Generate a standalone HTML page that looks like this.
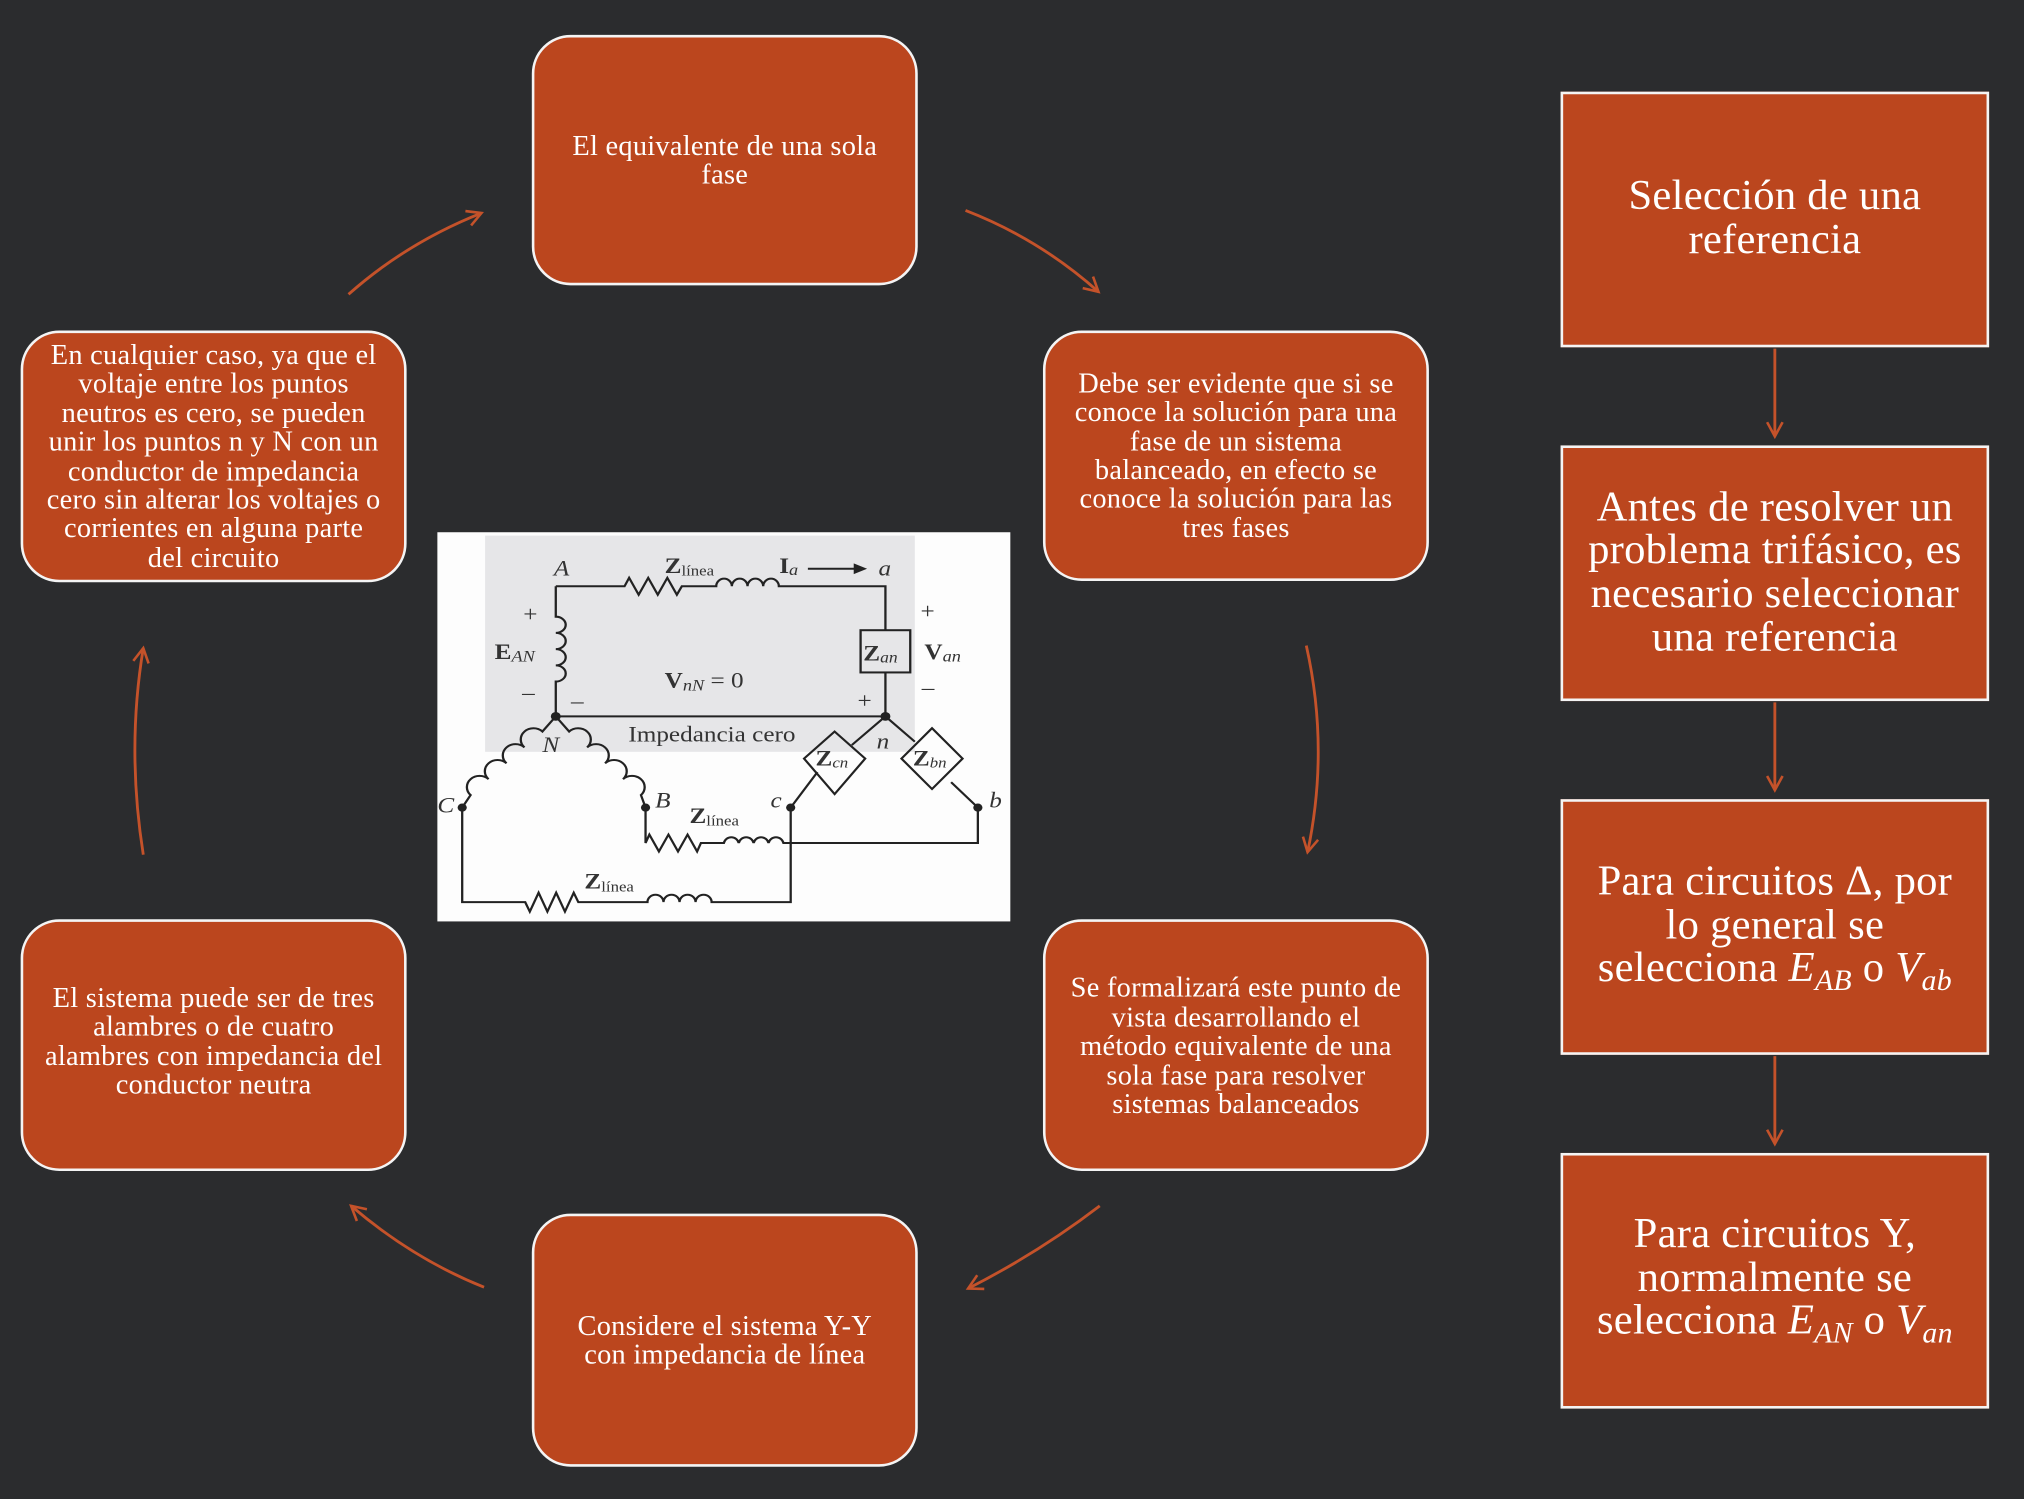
<!DOCTYPE html>
<html><head><meta charset="utf-8"><style>
html,body{margin:0;padding:0;background:#2b2b2d;}
#wrap{position:relative;width:1568px;height:1161px;transform:scale(1.2908,1.2911);transform-origin:0 0;background:#2b2c2e;overflow:hidden;font-family:"Liberation Serif",serif;}
.rb{position:absolute;width:294px;height:190px;background:#bb461e;border:2px solid #f4f4f4;border-radius:30px;box-sizing:border-box;display:flex;align-items:center;justify-content:center;text-align:center;color:#fff;font-size:22px;line-height:22.4px;padding:0 2px;letter-spacing:0.2px;white-space:nowrap;}
.sq{position:absolute;left:1209px;width:332px;height:198px;background:#bb461e;border:2px solid #f4f4f4;box-sizing:border-box;display:flex;align-items:center;justify-content:center;text-align:center;color:#fff;font-size:33px;line-height:33.6px;padding:0 2px;letter-spacing:0.2px;white-space:nowrap;}
.m{font-style:italic;}
.m sub{font-size:0.7em;vertical-align:-0.3em;}
svg{position:absolute;left:0;top:0;}
</style></head><body><div id="wrap">

<div class="rb" style="left:412px;top:27px;width:299px;height:194px;"><div style="margin-top:0px">El equivalente de una sola<br>fase</div></div>
<div class="rb" style="left:808px;top:256px;width:299px;height:194px;"><div style="margin-top:0px">Debe ser evidente que si se<br>conoce la solución para una<br>fase de un sistema<br>balanceado, en efecto se<br>conoce la solución para las<br>tres fases</div></div>
<div class="rb" style="left:808px;top:712px;width:299px;height:195px;"><div style="margin-top:2px">Se formalizará este punto de<br>vista desarrollando el<br>método equivalente de una<br>sola fase para resolver<br>sistemas balanceados</div></div>
<div class="rb" style="left:412px;top:940px;width:299px;height:196px;"><div>Considere el sistema Y-Y<br>con impedancia de línea</div></div>
<div class="rb" style="left:16px;top:712px;width:299px;height:195px;"><div style="margin-top:-6px">El sistema puede ser de tres<br>alambres o de cuatro<br>alambres con impedancia del<br>conductor neutra</div></div>
<div class="rb" style="left:16px;top:256px;width:299px;height:195px;"><div>En cualquier caso, ya que el<br>voltaje entre los puntos<br>neutros es cero, se pueden<br>unir los puntos n y N con un<br>conductor de impedancia<br>cero sin alterar los voltajes o<br>corrientes en alguna parte<br>del circuito</div></div>

<div class="sq" style="top:71px;"><div style="margin-top:0px">Selección de una<br>referencia</div></div>
<div class="sq" style="top:345px;"><div>Antes de resolver un<br>problema trifásico, es<br>necesario seleccionar<br>una referencia</div></div>
<div class="sq" style="top:619px;"><div style="margin-top:8px">Para circuitos Δ, por<br>lo general se<br>selecciona <span class="m">E<sub>AB</sub></span> o <span class="m">V<sub>ab</sub></span></div></div>
<div class="sq" style="top:893px;"><div style="margin-top:6px">Para circuitos Y,<br>normalmente se<br>selecciona <span class="m">E<sub>AN</sub></span> o <span class="m">V<sub>an</sub></span></div></div>

<svg width="1568" height="1161" viewBox="0 0 1568 1161">
<defs><marker id="ah" markerUnits="userSpaceOnUse" markerWidth="16" markerHeight="16" refX="12" refY="7" orient="auto"><path d="M1,1 L12,7 L1,13" fill="none" stroke="#c4522a" stroke-width="2"/></marker></defs>
<g fill="none" stroke="#c4522a" stroke-width="2.2" marker-end="url(#ah)">
<path d="M270,228 Q315,188 373,165"/>
<path d="M748,163 Q805,185 851,226"/>
<path d="M1012,500 Q1030,580 1013,660"/>
<path d="M852,934 Q805,970 750,998"/>
<path d="M375,997 Q320,975 272,934"/>
<path d="M111,662 Q98,580 111,502"/>
<path d="M1375,270 L1375,338"/>
<path d="M1375,544 L1375,612"/>
<path d="M1375,818 L1375,886"/>
</g>
</svg>

<svg style="left:327px;top:407px;" width="464" height="314" viewBox="0 0 1568 1200" preserveAspectRatio="none">
<rect x="40" y="20" width="1500" height="1152" fill="#fdfdfd"/>
<rect x="165" y="30" width="1125" height="640" fill="#e6e6e8"/>
<g fill="none" stroke="#222" stroke-width="6">
<path d="M350,180 L530,180 l12,-25 l25,50 l25,-50 l25,50 l25,-50 l25,50 l13,-25 L770,180 a20,22 0 0,1 41,0 a20,22 0 0,1 41,0 a20,22 0 0,1 41,0 a20,22 0 0,1 41,0 L1213,180 L1213,310"/>
<rect x="1148" y="310" width="130" height="125"/>
<path d="M1213,435 L1213,565 L350,565"/>
<path d="M350,180 L350,270 a26,24 0 0,1 0,48 a26,24 0 0,1 0,48 a26,24 0 0,1 0,48 a26,24 0 0,1 0,48 L350,565"/>
<path d="M350,565 L315,610 a30,30 0 0,0 -47,47 a30,30 0 0,0 -47,47 a30,30 0 0,0 -47,47 a30,30 0 0,0 -47,47 L105,835 L105,1115 L270,1115 l12,28 l23,-56 l23,56 l23,-56 l23,56 l23,-56 l12,28 L590,1115 a21,22 0 0,1 42,0 a21,22 0 0,1 42,0 a21,22 0 0,1 42,0 a21,22 0 0,1 42,0 L965,1115 L965,835"/>
<path d="M350,565 L385,610 a30,30 0 0,1 47,47 a30,30 0 0,1 47,47 a30,30 0 0,1 47,47 a30,30 0 0,1 47,47 L585,835 L585,940 l10,-25 l25,50 l25,-50 l25,50 l25,-50 l25,50 l10,-25 L790,940 a20,22 0 0,1 39,0 a20,22 0 0,1 39,0 a20,22 0 0,1 39,0 a20,22 0 0,1 39,0 L1455,940 L1455,835"/>
<path d="M1213,565 L1125,650 M1035,730 L965,835"/>
<path d="M1080,610 L1160,690 L1080,795 L1000,690 Z"/>
<path d="M1213,565 L1290,640 M1385,760 L1455,835"/>
<path d="M1335,600 L1415,690 L1335,780 L1255,690 Z"/>
<path d="M1010,128 L1140,128"/>
</g>
<path d="M1165,128 L1130,112 L1130,144 Z" fill="#222"/>
<g fill="#222"><circle cx="350" cy="565" r="13"/><circle cx="1213" cy="565" r="13"/><circle cx="105" cy="835" r="12"/><circle cx="585" cy="835" r="12"/><circle cx="965" cy="835" r="12"/><circle cx="1455" cy="835" r="12"/></g>
<g font-family="Liberation Serif,serif" fill="#333" font-size="66">
<text x="345" y="148" font-style="italic">A</text>
<text x="635" y="140" font-weight="bold">Z<tspan font-size="44" font-weight="normal" dy="8">línea</tspan></text>
<text x="935" y="140" font-weight="bold">I<tspan font-size="48" font-style="italic" font-weight="normal" dy="6">a</tspan></text>
<text x="1195" y="148" font-style="italic">a</text>
<text x="265" y="285">+</text>
<text x="190" y="395" font-weight="bold">E<tspan font-size="48" font-style="italic" font-weight="normal" dy="8">AN</tspan></text>
<text x="262" y="515">–</text>
<text x="390" y="540">–</text>
<text x="635" y="480" font-weight="bold">V<tspan font-size="48" font-style="italic" font-weight="normal" dy="8">nN</tspan><tspan dy="-8" font-weight="normal"> = 0</tspan></text>
<text x="1140" y="540">+</text>
<text x="1305" y="275">+</text>
<text x="1315" y="395" font-weight="bold">V<tspan font-size="48" font-style="italic" font-weight="normal" dy="8">an</tspan></text>
<text x="1308" y="500">–</text>
<text x="1155" y="400" font-weight="bold">Z<tspan font-size="46" font-style="italic" font-weight="normal" dy="6">an</tspan></text>
<text x="540" y="640">Impedancia cero</text>
<text x="315" y="670" font-style="italic">N</text>
<text x="1190" y="660" font-style="italic">n</text>
<text x="1030" y="710" font-weight="bold">Z<tspan font-size="44" font-style="italic" font-weight="normal" dy="6">cn</tspan></text>
<text x="1285" y="710" font-weight="bold">Z<tspan font-size="44" font-style="italic" font-weight="normal" dy="6">bn</tspan></text>
<text x="40" y="850" font-style="italic">C</text>
<text x="610" y="835" font-style="italic">B</text>
<text x="700" y="880" font-weight="bold">Z<tspan font-size="44" font-weight="normal" dy="8">línea</tspan></text>
<text x="912" y="835" font-style="italic">c</text>
<text x="1485" y="835" font-style="italic">b</text>
<text x="425" y="1075" font-weight="bold">Z<tspan font-size="44" font-weight="normal" dy="8">línea</tspan></text>
</g>
</svg>

</div></body></html>
